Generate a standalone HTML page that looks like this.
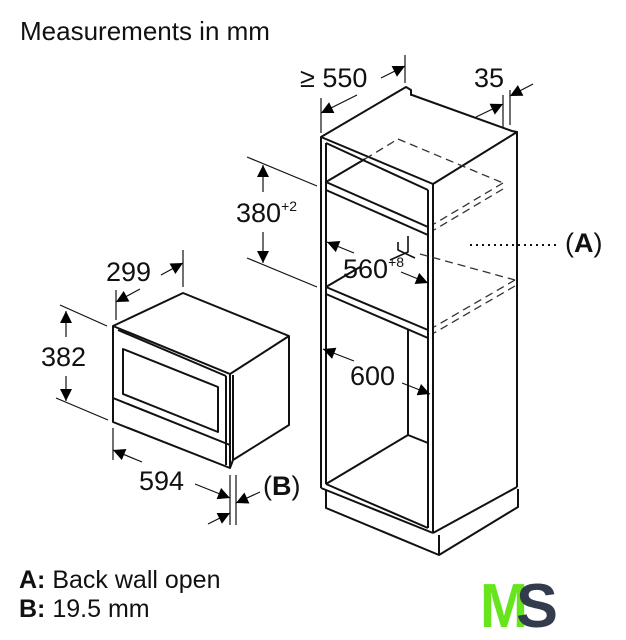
<!DOCTYPE html>
<html><head><style>
html,body{margin:0;padding:0;background:#fff;}
svg{display:block;font-family:"Liberation Sans",Arial,sans-serif;}
</style></head><body>
<svg width="626" height="640" viewBox="0 0 626 640" xmlns="http://www.w3.org/2000/svg">
<defs>
<marker id="a" viewBox="0 0 10 10" refX="10" refY="5" markerWidth="18" markerHeight="12" markerUnits="userSpaceOnUse" orient="auto"><path d="M0,0 L10,5 L0,10 z" fill="#000"/></marker>
</defs>
<text x="20" y="40" font-size="26" fill="#111">Measurements in mm</text>

<g stroke="#111" stroke-width="2" fill="none" stroke-linejoin="round">
<path d="M321,137 L406,87 L411,90 L411,95 L412,95 L512,131 L517,132 L433,184 L321,137 Z" fill="#fff"/>
<line x1="321" y1="137" x2="321" y2="488"/>
<line x1="433" y1="184" x2="433" y2="533"/>
<line x1="517" y1="132" x2="517" y2="487"/>
<line x1="433" y1="533" x2="517" y2="487"/>
<line x1="321" y1="488" x2="433" y2="533"/>
<path d="M326,490 L326,508 L439,555 L518,507 L518,489"/>
<line x1="439" y1="535" x2="439" y2="555"/>
<line x1="326" y1="143" x2="326" y2="484"/>
<line x1="428" y1="190" x2="428" y2="528"/>
<line x1="326" y1="143" x2="428" y2="190"/>
<line x1="326" y1="484" x2="428" y2="528"/>
<line x1="326" y1="182" x2="428" y2="227"/>
<line x1="326" y1="190" x2="428" y2="235"/>
<line x1="326" y1="182" x2="365" y2="159"/>
<line x1="326" y1="287" x2="428" y2="330"/>
<line x1="326" y1="294" x2="428" y2="338"/>
<line x1="326" y1="287" x2="360" y2="267"/>
<line x1="408" y1="330" x2="408" y2="435"/>
<line x1="408" y1="435" x2="428" y2="443"/>
<line x1="408" y1="435" x2="326" y2="484"/>
<path d="M408,236 L408,252 L390,260 M398,242 L398,250 L415,258" stroke-width="1.6"/>
</g>
<g stroke="#333" stroke-width="1.3" fill="none" stroke-dasharray="8,5">
<line x1="365" y1="159" x2="398" y2="139"/>
<line x1="398" y1="139" x2="503" y2="183"/>
<line x1="503" y1="183" x2="434" y2="224"/>
<line x1="503" y1="189" x2="434" y2="230"/>
<line x1="420" y1="254" x2="515" y2="280"/>
<line x1="515" y1="280" x2="434" y2="327"/>
<line x1="515" y1="286" x2="434" y2="333"/>
</g>
<line x1="470" y1="245" x2="560" y2="245" stroke="#111" stroke-width="2" stroke-dasharray="2,4"/>

<g stroke="#111" stroke-width="2" fill="#fff" stroke-linejoin="round">
<path d="M113,326 L183,293 L289,336 L289,425 L233,460 L230,468 L113,422 Z"/>
<line x1="230" y1="374" x2="289" y2="336"/>
<line x1="230" y1="374" x2="230" y2="468"/>
<line x1="113" y1="326" x2="230" y2="374"/>
<line x1="118" y1="330" x2="226" y2="376"/>
<line x1="226" y1="376" x2="226" y2="465"/>
<path d="M123,349 L218,387 L218,432 L123,394 Z" fill="none"/>
<line x1="113" y1="398" x2="230" y2="445"/>
<line x1="233" y1="375" x2="233" y2="460"/>
</g>

<g stroke="#111" stroke-width="1.2" fill="none">
<line x1="116" y1="290" x2="116" y2="320"/>
<line x1="183" y1="250" x2="183" y2="287"/>
<line x1="140" y1="289" x2="116" y2="302" marker-end="url(#a)"/>
<line x1="161" y1="275" x2="183" y2="263" marker-end="url(#a)"/>
<line x1="60" y1="305" x2="107" y2="326"/>
<line x1="56" y1="398" x2="108" y2="420"/>
<line x1="66" y1="337" x2="66" y2="311" marker-end="url(#a)"/>
<line x1="66" y1="376" x2="66" y2="401" marker-end="url(#a)"/>
<line x1="113" y1="428" x2="113" y2="460"/>
<line x1="230" y1="475" x2="230" y2="525"/>
<line x1="236" y1="475" x2="236" y2="525"/>
<line x1="142" y1="462" x2="113" y2="450" marker-end="url(#a)"/>
<line x1="195" y1="484" x2="230" y2="498" marker-end="url(#a)"/>
<line x1="260" y1="492" x2="236" y2="503" marker-end="url(#a)"/>
<line x1="208" y1="524" x2="230" y2="513" marker-end="url(#a)"/>
<line x1="247" y1="157" x2="317" y2="186"/>
<line x1="247" y1="258" x2="317" y2="287"/>
<line x1="263" y1="192" x2="263" y2="165" marker-end="url(#a)"/>
<line x1="263" y1="232" x2="263" y2="263" marker-end="url(#a)"/>
<line x1="321" y1="98" x2="321" y2="133"/>
<line x1="405" y1="55" x2="405" y2="83"/>
<line x1="357" y1="95" x2="321" y2="113" marker-end="url(#a)"/>
<line x1="381" y1="78" x2="405" y2="66" marker-end="url(#a)"/>
<line x1="503" y1="95" x2="503" y2="128"/>
<line x1="510" y1="90" x2="510" y2="125"/>
<line x1="476" y1="117" x2="503" y2="104" marker-end="url(#a)"/>
<line x1="533" y1="84" x2="510" y2="96" marker-end="url(#a)"/>
<line x1="354" y1="253" x2="327" y2="242" marker-end="url(#a)"/>
<line x1="401" y1="272" x2="428" y2="283" marker-end="url(#a)"/>
<line x1="354" y1="361" x2="323" y2="349" marker-end="url(#a)"/>
<line x1="402" y1="383" x2="430" y2="394" marker-end="url(#a)"/>
</g>

<g fill="#111" font-size="27">
<text x="300" y="87">≥ 550</text>
<text x="474" y="87">35</text>
<text x="236" y="222">380<tspan font-size="14" dy="-11">+2</tspan></text>
<text x="343" y="278">560<tspan font-size="14" dy="-11">+8</tspan></text>
<text x="350" y="385">600</text>
<text x="106" y="281">299</text>
<text x="41" y="366">382</text>
<text x="139" y="490">594</text>
<text x="263" y="495">(<tspan font-weight="bold">B</tspan>)</text>
<text x="565" y="252">(<tspan font-weight="bold">A</tspan>)</text>
<text x="19" y="588" font-size="25"><tspan font-weight="bold">A:</tspan> Back wall open</text>
<text x="19" y="617" font-size="25"><tspan font-weight="bold">B:</tspan> 19.5 mm</text>
</g>
<text x="480" y="627" font-size="62" font-weight="bold" fill="#66e41c" textLength="48" lengthAdjust="spacingAndGlyphs">M</text>
<text x="516" y="627" font-size="62" font-weight="bold" fill="#333c4c" textLength="42" lengthAdjust="spacingAndGlyphs">S</text>
</svg>
</body></html>
